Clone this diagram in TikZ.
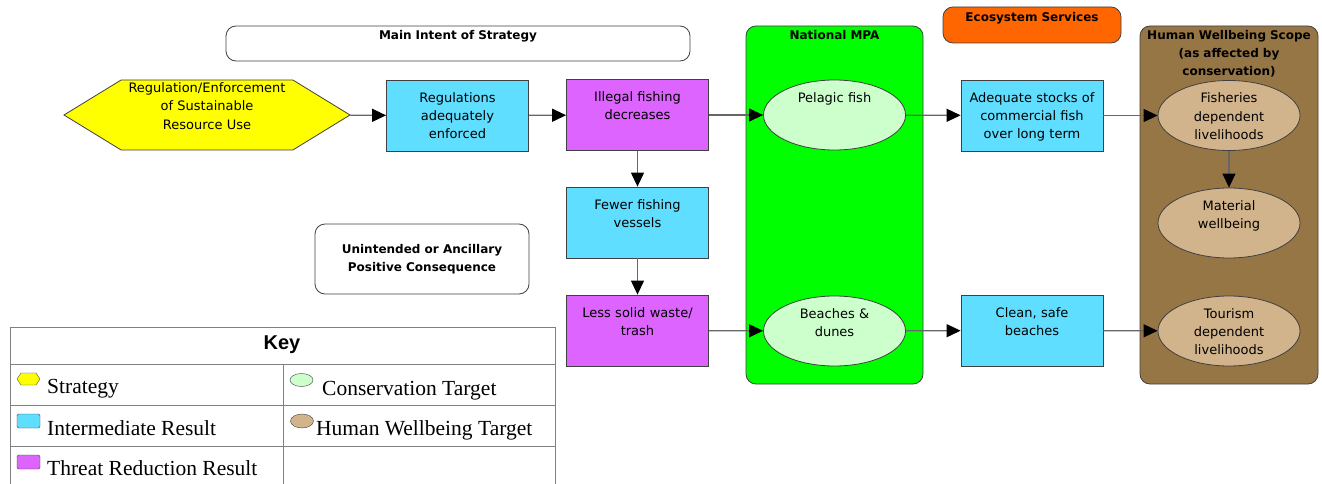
\documentclass[tikz,border=0pt]{standalone}
\usepackage{fontspec}
\setmainfont{Liberation Serif}
\setsansfont{Liberation Sans}
\newfontfamily\boxfont{DejaVu Sans}
\usepackage{tikz}
\usetikzlibrary{arrows.meta, positioning, shapes.geometric, shapes.symbols}
\definecolor{stratyellow}{RGB}{255, 255, 0}
\definecolor{irblue}{RGB}{96, 222, 255}
\definecolor{trpurple}{RGB}{222, 100, 255}
\definecolor{tgtgreen}{RGB}{204, 255, 204}
\definecolor{mpagreen}{RGB}{0, 255, 0}
\definecolor{ecoorange}{RGB}{255, 102, 0}
\definecolor{hwbrown}{RGB}{151, 118, 70}
\definecolor{hwtan}{RGB}{210, 180, 140}

\begin{document}
\begin{tikzpicture}[x=1pt, y=-1pt,
  base/.style={draw=black!75, line width=0.8pt, align=center, inner sep=0pt,
               font=\boxfont\fontsize{13}{18}\selectfont},
  box/.style={base, rectangle, minimum width=142pt, minimum height=71pt,
              text width=136pt, text height=22.5pt, text depth=48.5pt},
  ir/.style={box, fill=irblue},
  trr/.style={box, fill=trpurple},
  tgt/.style={base, ellipse, minimum width=142pt, minimum height=70pt,
              text width=100pt, text height=10pt, text depth=35pt},
  ctgt/.style={tgt, fill=tgtgreen},
  hwt/.style={tgt, fill=hwtan},
  strat/.style={base, signal, signal to=west and east, signal pointer angle=63,
                fill=stratyellow, minimum width=286pt, minimum height=70pt,
                text width=170pt, text height=10pt, text depth=54pt},
  scope/.style={draw=black!75, line width=0.8pt, rounded corners=10pt, align=center,
                inner sep=0pt, font=\boxfont\bfseries\fontsize{12}{18}\selectfont},
  keytxt/.style={anchor=base west, inner sep=0pt, font=\fontsize{21.5}{24}\selectfont},
  keyline/.style={draw=black!50, line width=0.8pt},
  arr/.style={draw=black!60, line width=1.2pt,
              -{Triangle[length=14pt, width=13pt, fill=black, color=black]}}
]
\useasboundingbox (0,0) rectangle (1322,484);

% scope boxes
\node[scope, fill=mpagreen, minimum width=177pt, minimum height=358pt, text width=170pt,
      text height=13.5pt, text depth=344.5pt] (mpa) at (834.5,205) {National MPA};
\node[scope, fill=hwbrown, minimum width=178pt, minimum height=358pt, text width=176pt,
      text height=13.5pt, text depth=344.5pt] (hwscope) at (1229,205)
  {Human Wellbeing Scope\\(as affected by\\conservation)};
\node[scope, fill=ecoorange, minimum width=178pt, minimum height=36pt, text width=170pt,
      text height=14.5pt, text depth=21.5pt] (eco) at (1032,25) {Ecosystem Services};
\node[scope, fill=white, minimum width=464pt, minimum height=35pt, text width=450pt,
      text height=13.5pt, text depth=21.5pt] (intent) at (458,43.5) {Main Intent of Strategy};
\node[scope, fill=white, minimum width=214pt, minimum height=70pt] (ancillary) at (422,259)
  {Unintended or Ancillary\\Positive Consequence};

% chain
\node[strat] (strategy) at (207,115) {Regulation/Enforcement\\of Sustainable\\Resource Use};
\node[ir] (enforced) at (457.5,115.5) {Regulations\\adequately\\enforced};
\node[trr] (illegal) at (637.5,115) {Illegal fishing\\decreases};
\node[ir] (vessels) at (637.5,222.5) {Fewer fishing\\vessels};
\node[trr] (waste) at (637.5,330.5) {Less solid waste/\\trash};
\node[ctgt] (pelagic) at (834.5,115) {Pelagic fish};
\node[ctgt] (beaches) at (834.5,331) {Beaches \&\\dunes};
\node[ir] (stocks) at (1032,115.5) {Adequate stocks of\\commercial fish\\over long term};
\node[ir] (clean) at (1032,330.5) {Clean, safe\\beaches};
\node[hwt] (fisheries) at (1229,115.5) {Fisheries\\dependent\\livelihoods};
\node[hwt] (material) at (1229,223) {Material\\wellbeing};
\node[hwt] (tourism) at (1229,331) {Tourism\\dependent\\livelihoods};

\draw[arr] (strategy) -- (enforced);
\draw[arr] (enforced) -- (illegal);
\draw[arr] (illegal) -- (pelagic);
\draw[arr] (pelagic) -- (stocks);
\draw[arr] (stocks) -- (fisheries);
\draw[arr] (fisheries) -- (material);
\draw[arr] (illegal) -- (vessels);
\draw[arr] (vessels) -- (waste);
\draw[arr] (waste) -- (beaches);
\draw[arr] (beaches) -- (clean);
\draw[arr] (clean) -- (tourism);

% key
\draw[keyline] (10,484) -- (10,327) -- (555,327) -- (555,484);
\draw[keyline] (10,364) -- (555,364) (10,405) -- (555,405) (10,446) -- (555,446);
\draw[keyline] (283,364) -- (283,484);
\node[font=\sffamily\bfseries\fontsize{20}{24}\selectfont] (keyhead) at (282,345) {Key};
\draw[draw=black!75, fill=stratyellow] (17,379) -- (21,373) -- (36,373) -- (40,379)
  -- (36,385) -- (21,385) -- cycle;
\draw[draw=black!75, fill=irblue, rounded corners=1.5pt] (17,414) rectangle (40,428);
\draw[draw=black!75, fill=trpurple, rounded corners=1.5pt] (17,455) rectangle (40,469);
\draw[draw=black!75, fill=tgtgreen] (301.5,380) ellipse (11.5 and 6.5);
\draw[draw=black!75, fill=hwtan] (302,421) ellipse (11.5 and 7);
\node[keytxt] (kstrat) at (47,393) {Strategy};
\node[keytxt] (kir) at (47,435) {Intermediate Result};
\node[keytxt] (ktrr) at (47,475) {Threat Reduction Result};
\node[keytxt] (kctgt) at (322,395) {Conservation Target};
\node[keytxt] (khwt) at (316,435) {Human Wellbeing Target};
\end{tikzpicture}
\end{document}
